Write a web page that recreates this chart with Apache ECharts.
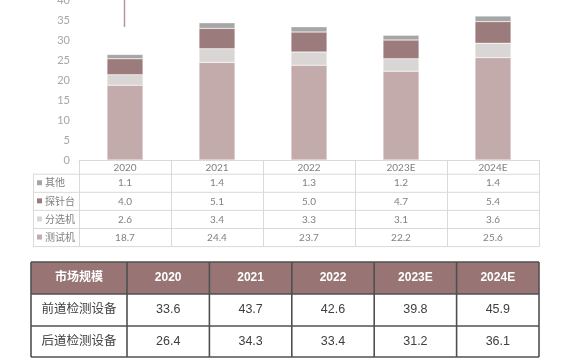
<!DOCTYPE html>
<html><head><meta charset="utf-8">
<script src="https://cdn.jsdelivr.net/npm/echarts@6/dist/echarts.min.js"></script>
<style>html,body{margin:0;padding:0;background:#fff}#c{width:570px;height:360px}</style>
</head><body><div id="c"></div>
<script>
// ---- data ----
const categories = ['2020', '2021', '2022', '2023E', '2024E'];
const testerName = '测试机', sorterName = '分选机', proberName = '探针台', otherName = '其他';
const tester = [18.7, 24.4, 23.7, 22.2, 25.6];
const sorter = [2.6, 3.4, 3.3, 3.1, 3.6];
const prober = [4.0, 5.1, 5.0, 4.7, 5.4];
const other = [1.1, 1.4, 1.3, 1.2, 1.4];
const yMin = 0, yMax = 40, yInterval = 5;
const marketHeader = '市场规模';
const frontName = '前道检测设备', backName = '后道检测设备';
const frontEnd = [33.6, 43.7, 42.6, 39.8, 45.9];
const backEnd = [26.4, 34.3, 33.4, 31.2, 36.1];

// ---- styles / layout ----
const colors = { tester: '#c4abab', sorter: '#dbd6d6', prober: '#9b7b7b', other: '#a6a6a6' };
const FONT = "Lato, 'Noto Sans CJK SC', sans-serif";
const FONT2 = "'Liberation Sans', 'Noto Sans CJK SC', sans-serif";
const gLeft = 79, gRight = 539, gTop = 0, gBottom = 160;
const W = 570;
const catW = (gRight - gLeft) / categories.length;
const rowH = 18.1;
const legX = 33;
const tableRows = [
  { name: otherName, color: colors.other, data: other },
  { name: proberName, color: colors.prober, data: prober },
  { name: sorterName, color: colors.sorter, data: sorter },
  { name: testerName, color: colors.tester, data: tester }
];

const graphics = [];
const gridLine = '#d9d9d9';
function line(x1, y1, x2, y2, color, w) {
  graphics.push({ type: 'line', silent: true, shape: { x1, y1, x2, y2 }, style: { stroke: color, lineWidth: w || 1 } });
}
function text(x, y, t, opt) {
  graphics.push({ type: 'text', silent: true, x, y, style: Object.assign({ text: t, fill: '#808080', font: '10px ' + FONT, textAlign: 'center', textVerticalAlign: 'middle' }, opt || {}) });
}

// data table under the chart
const t0 = gBottom + 14.2;
for (let r = 0; r <= tableRows.length; r++) {
  line(legX, t0 + r * rowH, gRight, t0 + r * rowH, gridLine);
}
line(legX + 0.5, t0, legX + 0.5, t0 + tableRows.length * rowH, gridLine);
for (let c = 0; c <= categories.length; c++) {
  const x = Math.round(gLeft + c * catW) + 0.5;
  line(x, gBottom, x, t0 + tableRows.length * rowH, gridLine);
}
tableRows.forEach((row, r) => {
  const cy = t0 + r * rowH + rowH / 2;
  graphics.push({ type: 'rect', silent: true, shape: { x: 37, y: cy - 3, width: 5, height: 5 }, style: { fill: row.color } });
  text(45, cy, row.name, { textAlign: 'left', font: '10px ' + FONT });
  row.data.forEach((v, c) => text(gLeft + (c + 0.5) * catW, cy, v.toFixed(1)));
});

// decorative line at top
line(124.5, 0, 124.5, 27, '#b8979b', 1.5);

// market table
const mtL = 31, mtR = 539, mtTop = 262, mtRowH = [32, 32, 31];
const firstColW = 96;
const colW = (mtR - mtL - firstColW) / categories.length;
const ys = [mtTop];
mtRowH.forEach(h => ys.push(ys[ys.length - 1] + h));
graphics.push({ type: 'rect', silent: true, shape: { x: mtL, y: ys[0], width: mtR - mtL, height: mtRowH[0] }, style: { fill: '#987474' } });
const mtRows = [
  { name: marketHeader, data: categories, header: true },
  { name: frontName, data: frontEnd.map(v => v.toFixed(1)) },
  { name: backName, data: backEnd.map(v => v.toFixed(1)) }
];
mtRows.forEach((row, r) => {
  const cy = (ys[r] + ys[r + 1]) / 2;
  const st = row.header ? { fill: '#ffffff', font: 'bold 12px ' + FONT2 } : { fill: '#404040', font: '12.5px ' + FONT2 };
  text(mtL + firstColW / 2, cy, row.name, st);
  row.data.forEach((v, c) => text(mtL + firstColW + (c + 0.5) * colW, cy, v, st));
});
const bc = '#505050';
ys.forEach(y => line(mtL, y, mtR, y, bc, 1.6));
line(mtL, ys[0], mtL, ys[ys.length - 1], bc, 1.6);
for (let c = 0; c <= categories.length; c++) {
  const x = mtL + firstColW + c * colW;
  line(x, ys[0], x, ys[ys.length - 1], bc, 1.6);
}

const barStyle = c => ({ color: c, borderColor: 'rgba(255,255,255,0.6)', borderWidth: 0.5 });
const chart = echarts.init(document.getElementById('c'), null, { renderer: 'canvas' });
chart.setOption({
  animation: false,
  backgroundColor: '#fff',
  grid: { left: gLeft, right: W - gRight, top: gTop, bottom: 360 - gBottom, containLabel: false, outerBoundsMode: 'none' },
  xAxis: {
    type: 'category', data: categories,
    axisLine: { show: true, lineStyle: { color: gridLine } },
    axisTick: { show: false },
    axisLabel: { color: '#808080', fontSize: 10, fontFamily: FONT, margin: 3 }
  },
  yAxis: {
    type: 'value', min: yMin, max: yMax, interval: yInterval,
    axisLine: { show: false }, axisTick: { show: false }, splitLine: { show: false },
    axisLabel: { color: '#a6a6a6', fontSize: 11, fontFamily: FONT, margin: 9 }
  },
  series: [
    { name: testerName, type: 'bar', stack: 's', barWidth: 36, data: tester, itemStyle: barStyle(colors.tester) },
    { name: sorterName, type: 'bar', stack: 's', data: sorter, itemStyle: barStyle(colors.sorter) },
    { name: proberName, type: 'bar', stack: 's', data: prober, itemStyle: barStyle(colors.prober) },
    { name: otherName, type: 'bar', stack: 's', data: other, itemStyle: barStyle(colors.other) }
  ],
  graphic: graphics
});
</script></body></html>
